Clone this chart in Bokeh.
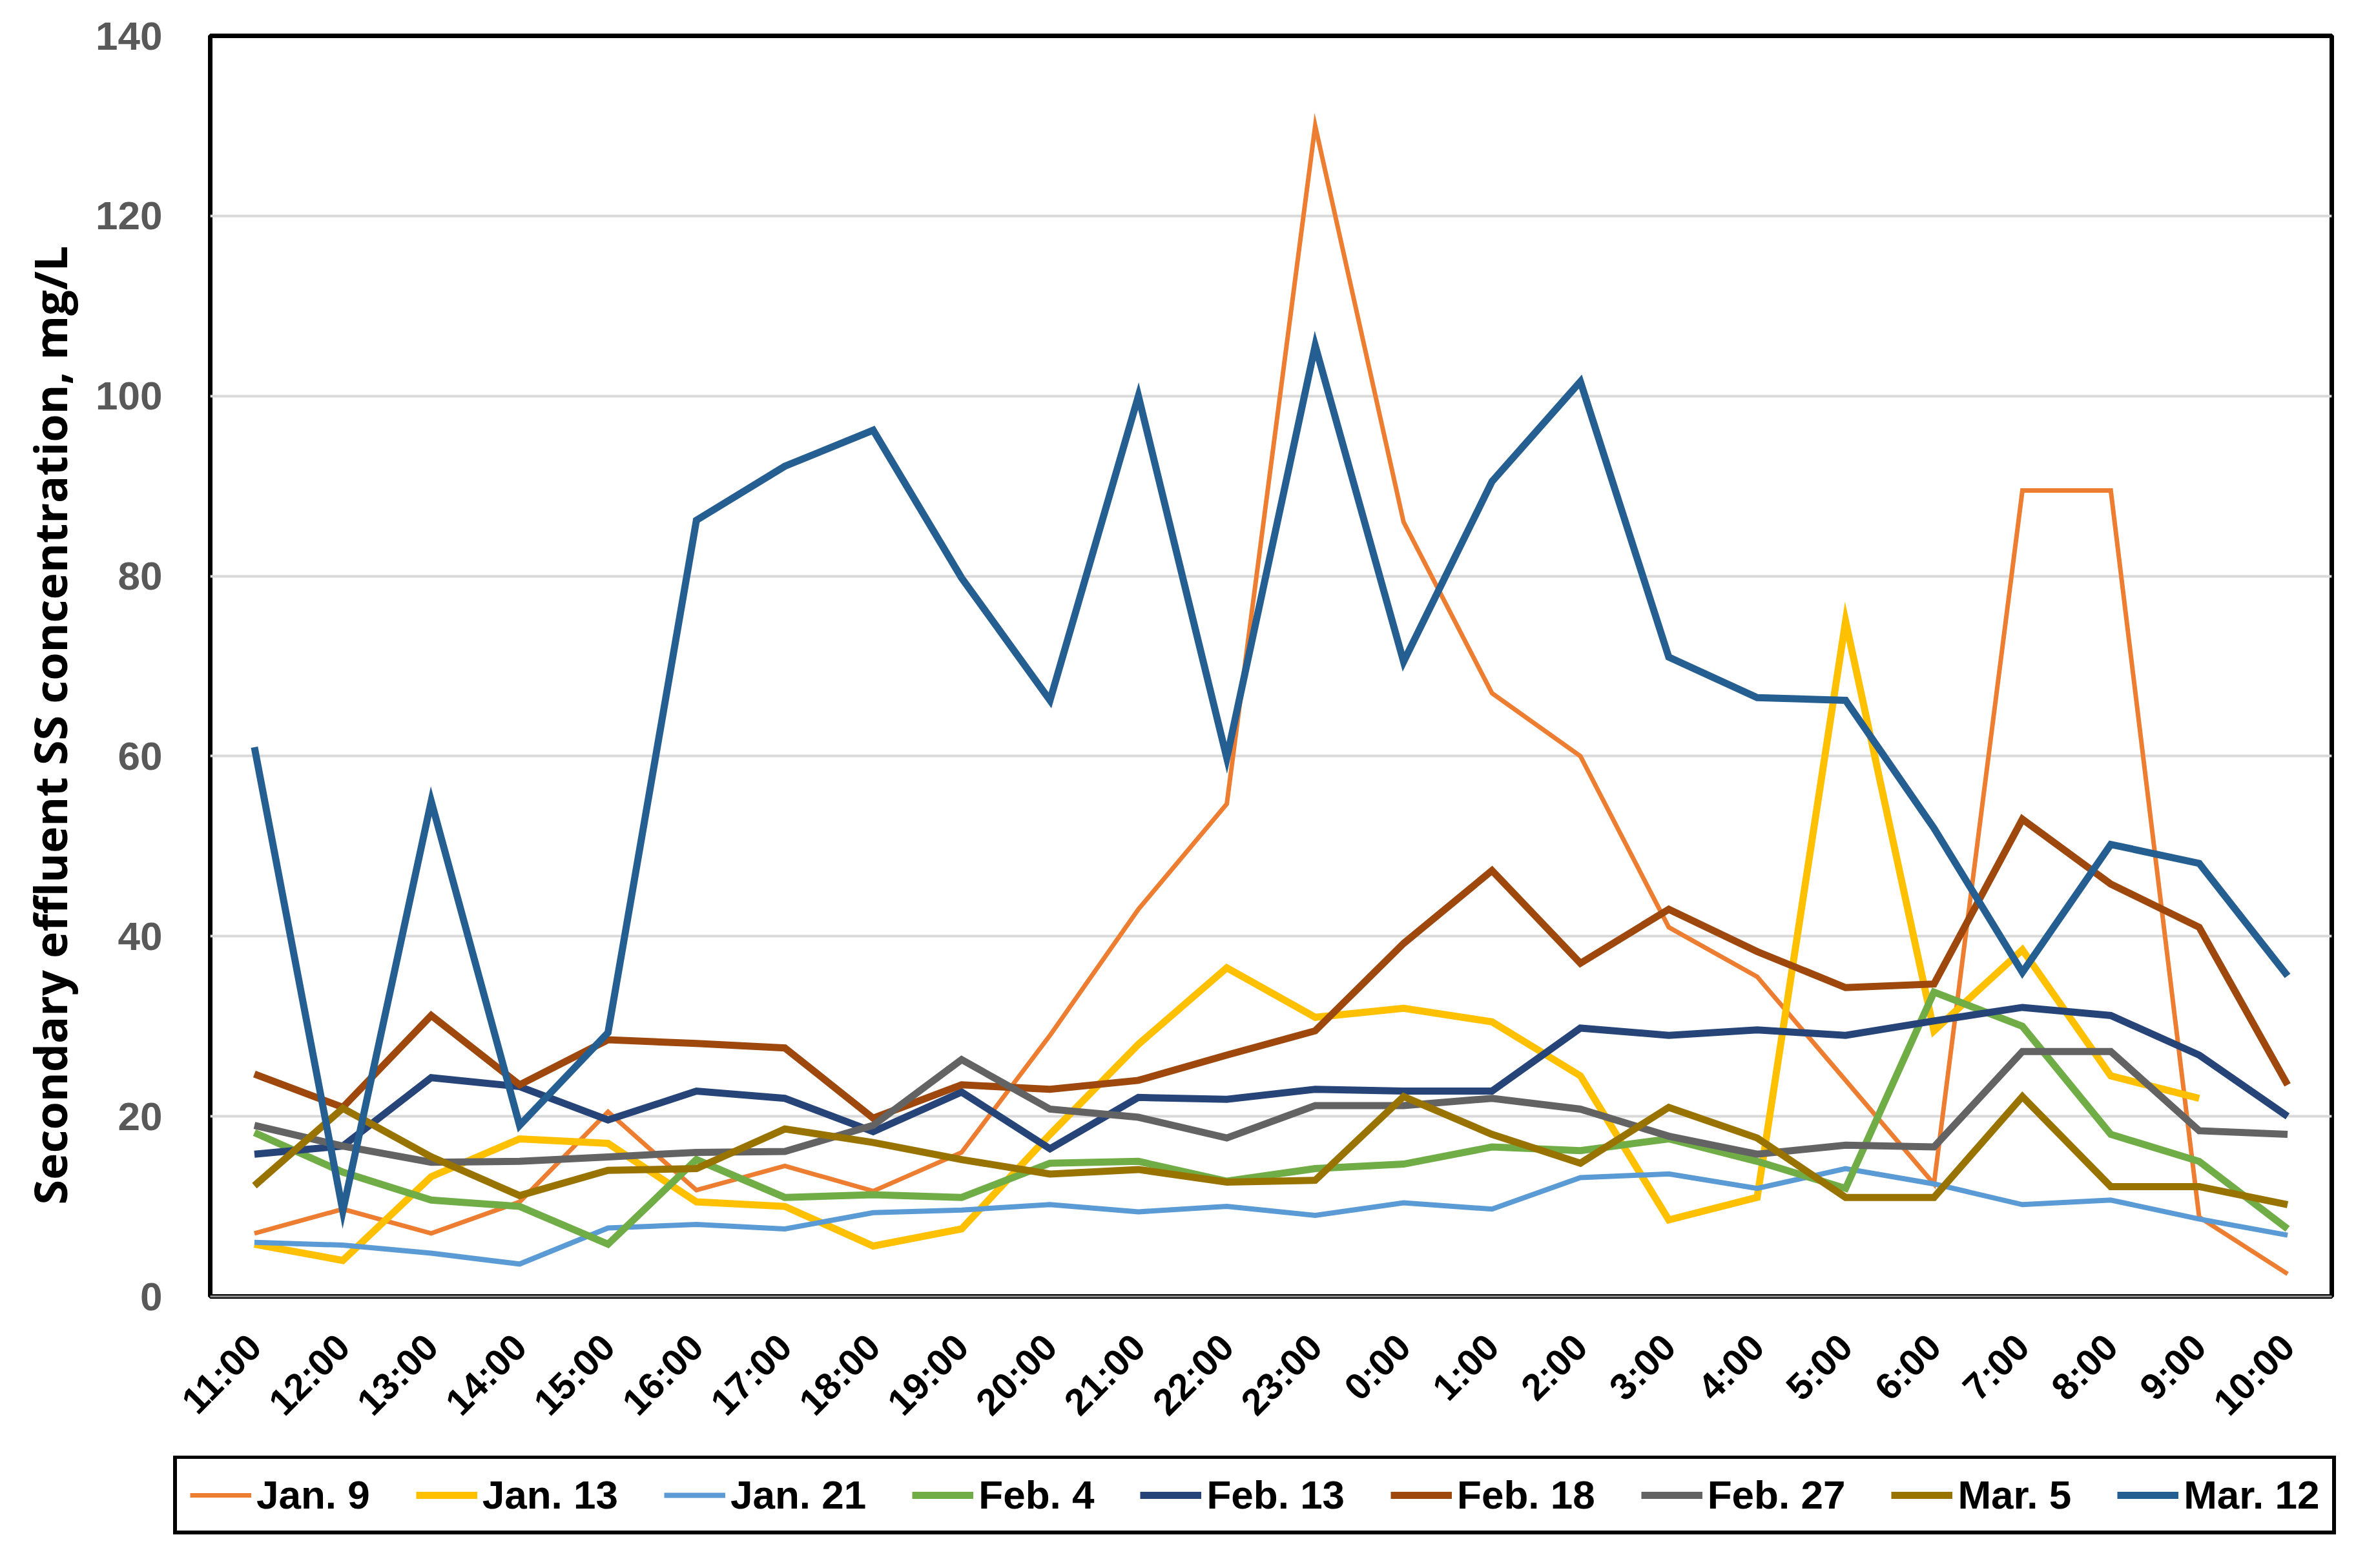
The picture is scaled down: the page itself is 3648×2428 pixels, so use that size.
import math
from bokeh.plotting import figure
from bokeh.layouts import column, row
from bokeh.models import FactorRange, Range1d, FixedTicker, Legend, LegendItem, Title
from bokeh.embed import file_html
from bokeh.resources import INLINE

hours = ["11:00", "12:00", "13:00", "14:00", "15:00", "16:00", "17:00", "18:00",
         "19:00", "20:00", "21:00", "22:00", "23:00", "0:00", "1:00", "2:00",
         "3:00", "4:00", "5:00", "6:00", "7:00", "8:00", "9:00", "10:00"]

jan9 = [7, 9.7, 7, 10.5, 20.5, 11.8, 14.5, 11.7, 16, 29, 43, 54.7, 130, 86, 67, 60,
        41, 35.5, 24, 12.5, 89.5, 89.5, 8.8, 2.5]
jan13 = [5.8, 4, 13.3, 17.5, 17, 10.5, 10, 5.6, 7.5, 18, 28, 36.5, 31, 32, 30.5, 24.5,
         8.5, 11, 75, 29.5, 38.5, 24.5, 22]
jan21 = [6, 5.7, 4.8, 3.6, 7.6, 8, 7.5, 9.3, 9.6, 10.2, 9.4, 10, 9, 10.4, 9.7, 13.2,
         13.6, 12, 14.2, 12.5, 10.2, 10.7, 8.6, 6.8]
feb4 = [18.2, 13.8, 10.7, 10, 5.8, 15.2, 11, 11.3, 11, 14.8, 15, 12.8, 14.2, 14.7, 16.6, 16.2,
        17.5, 15, 12, 33.8, 30, 18, 15, 7.5]
feb13 = [15.8, 16.7, 24.3, 23.3, 19.6, 22.8, 22, 18.3, 22.7, 16.4, 22.1, 21.9, 23, 22.8, 22.8, 29.8,
         29, 29.6, 29, 30.6, 32.1, 31.2, 26.8, 20]
feb18 = [24.7, 21, 31.2, 23.5, 28.5, 28.1, 27.6, 19.8, 23.5, 23, 24, 26.8, 29.5, 39.2, 47.3, 37,
         43, 38.3, 34.3, 34.7, 53, 45.8, 41, 23.5]
feb27 = [19, 16.7, 14.9, 15, 15.5, 16, 16.1, 19, 26.3, 20.8, 19.9, 17.6, 21.2, 21.2, 22, 20.8,
         17.8, 15.8, 16.8, 16.6, 27.2, 27.2, 18.4, 18]
mar5 = [12.3, 20.9, 15.5, 11.2, 14, 14.2, 18.6, 17.1, 15.2, 13.6, 14.1, 12.7, 12.9, 22.2, 18, 14.8,
        21, 17.6, 11, 11, 22.2, 12.2, 12.2, 10.2]
mar12 = [61, 9.5, 55, 19, 29.3, 86.2, 92.2, 96.2, 79.8, 66.2, 100, 59.8, 105.6, 70.5, 90.5, 101.6,
         71, 66.5, 66.2, 52, 36, 50.2, 48.1, 35.6]

series_names = ["Jan. 9", "Jan. 13", "Jan. 21", "Feb. 4", "Feb. 13", "Feb. 18", "Feb. 27", "Mar. 5", "Mar. 12"]
series_values = [jan9, jan13, jan21, feb4, feb13, feb18, feb27, mar5, mar12]
series_colors = ["#ED7D31", "#FFC000", "#5B9BD5", "#70AD47", "#264478", "#9E480E", "#636363", "#997300", "#255E91"]
series_widths = [7, 11, 8, 11, 11, 11, 11, 11, 11]
y_ticks = [0, 20, 40, 60, 80, 100, 120, 140]

FONT = "Liberation Sans"

W = 3630
H_LEG = 160

p = figure(frame_width=3285, frame_height=1952,
           x_range=FactorRange(factors=hours), y_range=Range1d(0, 140),
           output_backend="svg", toolbar_location=None,
           min_border_left=325, min_border_right=20, min_border_top=55, min_border_bottom=247)
p.background_fill_color = "white"
p.border_fill_color = "white"
p.outline_line_color = "black"
p.outline_line_alpha = 1.0
p.outline_line_width = 7

p.xgrid.grid_line_color = None
p.ygrid.grid_line_color = "#D9D9D9"
p.ygrid.grid_line_width = 4
p.yaxis.ticker = FixedTicker(ticks=y_ticks)

for ax in (p.xaxis[0], p.yaxis[0]):
    ax.axis_line_color = None
    ax.major_tick_line_color = None
    ax.minor_tick_line_color = None
    ax.major_label_text_font = FONT
    ax.major_label_text_font_style = "bold"

p.xaxis.axis_line_color = "#8C8C8C"
p.xaxis.axis_line_width = 3
p.yaxis.major_label_text_font_size = "62px"
p.yaxis.major_label_text_color = "#595959"
p.yaxis.major_label_standoff = 68
p.xaxis.major_label_text_font_size = "58px"
p.xaxis.major_label_text_color = "black"
p.xaxis.major_label_orientation = math.pi / 4
p.xaxis.major_label_standoff = 62

for name, vals, col, lw in zip(series_names, series_values, series_colors, series_widths):
    p.line(x=hours[:len(vals)], y=vals, line_color=col, line_width=lw, line_join="miter")

ytitle = Title(text="Secondary effluent SS concentration, mg/L", align="left", offset=142,
               text_font="Open Sans", text_font_style="bold", text_font_size="70px",
               text_color="black", standoff=42)
p.add_layout(ytitle, "left")

# legend strip below the chart (swatch renderers sit outside the strip's visible range)
q = figure(width=W, height=H_LEG, x_range=Range1d(0, 1), y_range=Range1d(0, 1),
           x_axis_type=None, y_axis_type=None, output_backend="svg", toolbar_location=None,
           min_border_left=0, min_border_right=0, min_border_top=0, min_border_bottom=0)
q.outline_line_color = None
q.background_fill_color = "white"
q.border_fill_color = "white"
items = []
for name, col, lw in zip(series_names, series_colors, series_widths):
    d = q.line(x=[-5, -4], y=[-5, -4], line_color=col, line_width=lw)
    items.append(LegendItem(label=name, renderers=[d]))

legend = Legend(items=items, orientation="horizontal", location=(268, 38),
                border_line_color="black", border_line_alpha=1.0, border_line_width=6,
                background_fill_color="white", background_fill_alpha=1.0,
                glyph_width=95, glyph_height=30, label_standoff=8,
                spacing=71, padding=20, margin=0,
                label_text_font=FONT, label_text_font_style="bold",
                label_text_font_size="62px", label_text_color="black")
q.add_layout(legend, "center")

layout = column(p, row(q), spacing=0)
open("out.html", "w").write(file_html(layout, INLINE))
